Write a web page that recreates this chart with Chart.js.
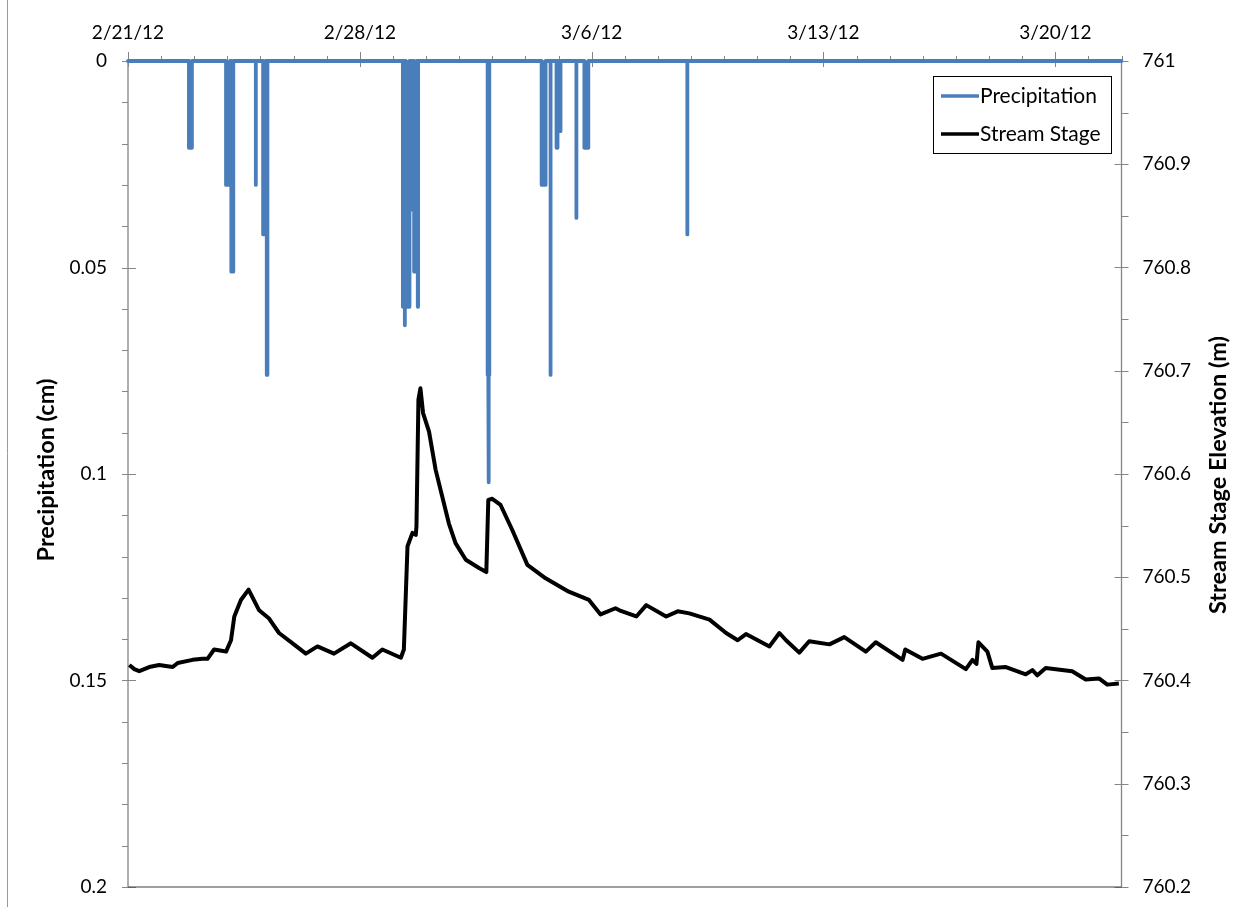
<!DOCTYPE html>
<html>
<head>
<meta charset="utf-8">
<title>Precipitation and Stream Stage</title>
<script src="https://cdn.jsdelivr.net/npm/chart.js@4.4.0/dist/chart.umd.min.js"></script>
<style>
  html, body { margin: 0; padding: 0; background: #ffffff; }
  #wrap { width: 1250px; height: 907px; }
</style>
</head>
<body>
<div id="wrap"><canvas id="chart" width="1250" height="907"></canvas></div>
<script>
// Time is measured in days since 2/21/12 00:00.
const dateLabels = ['2/21/12', '2/28/12', '3/6/12', '3/13/12', '3/20/12'];
const labelDays = [0, 7, 14, 21, 28];

// Rain events: start day, end day, depth per interval (cm)
const rainStart = [1.84, 2.96, 3.12, 3.86, 4.08, 4.19, 8.30, 8.36, 8.39, 8.55, 8.64, 8.75, 10.86, 10.89, 10.90, 12.49, 12.76, 12.94, 13.00, 13.54, 13.78, 16.89];
const rainEnd   = [1.93, 3.08, 3.18, 3.86, 4.15, 4.21, 8.33, 8.36, 8.50, 8.60, 8.72, 8.76, 10.88, 10.89, 10.91, 12.61, 12.76, 12.97, 13.06, 13.54, 13.90, 16.89];
const rainDepth = [0.021, 0.030, 0.051, 0.030, 0.042, 0.076, 0.0595, 0.064, 0.0595, 0.036, 0.051, 0.0595, 0.076, 0.102, 0.076, 0.030, 0.076, 0.021, 0.017, 0.038, 0.021, 0.042];

// Stream stage record
const stageDays = [0.04, 0.19, 0.34, 0.64, 0.94, 1.35, 1.50, 1.95, 2.25, 2.40, 2.60, 2.96, 3.11, 3.21, 3.41, 3.64, 3.96, 4.26, 4.56, 4.97, 5.37, 5.72, 6.22, 6.73, 7.38, 7.68, 8.24, 8.33, 8.44, 8.59, 8.69, 8.71, 8.77, 8.83, 8.91, 9.09, 9.29, 9.49, 9.69, 9.89, 10.20, 10.60, 10.82, 10.88, 11.00, 11.25, 11.60, 12.06, 12.61, 13.31, 13.92, 14.27, 14.72, 14.84, 15.35, 15.65, 16.25, 16.60, 16.95, 17.56, 18.06, 18.41, 18.66, 19.37, 19.67, 19.87, 20.27, 20.57, 21.18, 21.63, 22.28, 22.58, 23.39, 23.47, 23.99, 24.55, 25.30, 25.50, 25.62, 25.68, 25.95, 26.10, 26.51, 27.11, 27.31, 27.46, 27.71, 28.51, 28.92, 29.32, 29.57, 29.92];
const stageElev = [760.415, 760.411, 760.409, 760.413, 760.415, 760.413, 760.417, 760.420, 760.421, 760.421, 760.430, 760.428, 760.439, 760.462, 760.478, 760.488, 760.468, 760.460, 760.446, 760.436, 760.426, 760.433, 760.426, 760.436, 760.422, 760.430, 760.422, 760.430, 760.530, 760.543, 760.541, 760.549, 760.672, 760.683, 760.659, 760.641, 760.604, 760.578, 760.552, 760.533, 760.517, 760.509, 760.505, 760.575, 760.576, 760.570, 760.546, 760.512, 760.499, 760.486, 760.478, 760.464, 760.470, 760.468, 760.462, 760.473, 760.462, 760.467, 760.465, 760.459, 760.446, 760.439, 760.445, 760.433, 760.446, 760.439, 760.427, 760.438, 760.435, 760.442, 760.428, 760.437, 760.420, 760.430, 760.421, 760.426, 760.411, 760.420, 760.416, 760.437, 760.428, 760.412, 760.413, 760.406, 760.410, 760.405, 760.412, 760.409, 760.401, 760.402, 760.396, 760.397];

const DAY_MIN = 0, DAY_MAX = 30;
const BLUE = '#4a7ebb';
const AXIS_GREY = '#868686';
const FONT = 'Lato, "Open Sans", sans-serif';

// Stepped rain series: baseline at zero, each event drops to its depth and back.
const precipPoints = [{ x: DAY_MIN, y: 0 }];
rainStart.forEach((s, i) => {
  precipPoints.push({ x: s, y: 0 }, { x: s, y: rainDepth[i] }, { x: rainEnd[i], y: rainDepth[i] }, { x: rainEnd[i], y: 0 });
});
precipPoints.push({ x: DAY_MAX, y: 0 });

const stagePoints = stageDays.map((d, i) => ({ x: d, y: stageElev[i] }));

// Axis lines, tick marks, axis titles and the boxed legend.
const decorations = {
  id: 'decorations',
  beforeDatasetsDraw(chart) {
    const { ctx, chartArea: a, scales } = chart;
    const xs = scales.x, yl = scales.y, yr = scales.y2;
    ctx.save();
    // outer frame edge
    ctx.strokeStyle = '#9a9a9a';
    ctx.lineWidth = 1;
    ctx.beginPath(); ctx.moveTo(7.5, 0); ctx.lineTo(7.5, 907); ctx.stroke();

    ctx.strokeStyle = AXIS_GREY;
    ctx.lineWidth = 1.3;
    ctx.beginPath();
    ctx.moveTo(a.left, a.top); ctx.lineTo(a.left, a.bottom);
    ctx.moveTo(a.right, a.top); ctx.lineTo(a.right, a.bottom);
    ctx.moveTo(a.left, a.top); ctx.lineTo(a.right, a.top);
    ctx.stroke();

    ctx.lineWidth = 1;
    ctx.beginPath();
    // left axis: minor every 0.01, major every 0.05
    for (let k = 0; k <= 20; k++) {
      const y = Math.round(yl.getPixelForValue(k / 100)) + 0.5;
      if (k % 5 === 0) { ctx.moveTo(a.left - 6, y); ctx.lineTo(a.left + 8, y); }
      else { ctx.moveTo(a.left - 6, y); ctx.lineTo(a.left, y); }
    }
    // right axis: minor every 0.05, major every 0.1
    for (let k = 0; k <= 16; k++) {
      const y = Math.round(yr.getPixelForValue(760.2 + k * 0.05)) + 0.5;
      if (k % 2 === 0) { ctx.moveTo(a.right - 7, y); ctx.lineTo(a.right + 7, y); }
      else { ctx.moveTo(a.right, y); ctx.lineTo(a.right + 7, y); }
    }
    // top axis: daily minor ticks, weekly major ticks
    for (let d = DAY_MIN; d <= DAY_MAX; d++) {
      const x = Math.round(xs.getPixelForValue(d)) + 0.5;
      if (labelDays.includes(d)) { ctx.moveTo(x, a.top - 9); ctx.lineTo(x, a.top + 6); }
      else { ctx.moveTo(x, a.top - 5); ctx.lineTo(x, a.top); }
    }
    ctx.stroke();

    // bottom edge
    ctx.strokeStyle = '#404040';
    ctx.lineWidth = 1.2;
    ctx.beginPath(); ctx.moveTo(a.left, a.bottom); ctx.lineTo(a.right, a.bottom); ctx.stroke();

    // axis titles, both reading bottom to top
    ctx.fillStyle = '#000';
    ctx.font = 'bold 23.5px ' + FONT;
    ctx.textAlign = 'center';
    ctx.textBaseline = 'middle';
    const midY = (a.top + a.bottom) / 2;
    ctx.save(); ctx.translate(46, midY - 4); ctx.rotate(-Math.PI / 2);
    ctx.fillText('Precipitation (cm)', 0, 0); ctx.restore();
    ctx.save(); ctx.translate(1218, midY + 1); ctx.rotate(-Math.PI / 2);
    ctx.fillText('Stream Stage Elevation (m)', 0, 0); ctx.restore();
    ctx.restore();
  },
  afterDatasetsDraw(chart) {
    const { ctx } = chart;
    const box = { x: 933.5, y: 76.5, w: 178, h: 77 };
    ctx.save();
    ctx.fillStyle = '#fff';
    ctx.fillRect(box.x, box.y, box.w, box.h);
    ctx.strokeStyle = '#000';
    ctx.lineWidth = 1;
    ctx.strokeRect(box.x, box.y, box.w, box.h);
    ctx.font = '21px ' + FONT;
    ctx.textBaseline = 'middle';
    ctx.textAlign = 'left';
    chart.data.datasets.forEach((ds, i) => {
      const cy = 96 + i * 38;
      ctx.strokeStyle = ds.borderColor;
      ctx.lineWidth = 3.5;
      ctx.beginPath(); ctx.moveTo(941, cy); ctx.lineTo(979, cy); ctx.stroke();
      ctx.fillStyle = '#000';
      ctx.fillText(ds.label, 980, cy);
    });
    ctx.restore();
  }
};

const tickFont = { family: FONT, size: 19 };
// fixed side widths so the plot area spans x 128..1121.5
const fitLeft = s => { s.width = 128; s.paddingTop = 0; s.paddingBottom = 0; };
const fitRight = s => { s.width = 128.5; s.paddingTop = 0; s.paddingBottom = 0; };

new Chart(document.getElementById('chart'), {
  type: 'line',
  data: {
    datasets: [
      {
        label: 'Precipitation',
        data: precipPoints,
        yAxisID: 'y',
        borderColor: BLUE,
        backgroundColor: BLUE,
        borderWidth: 3.8,
        fill: 'origin',
        pointRadius: 0,
        tension: 0,
        borderJoinStyle: 'round',
        borderCapStyle: 'round',
        clip: false,
        order: 2
      },
      {
        label: 'Stream Stage',
        data: stagePoints,
        yAxisID: 'y2',
        borderColor: '#000000',
        borderWidth: 4,
        fill: false,
        pointRadius: 0,
        tension: 0,
        borderJoinStyle: 'round',
        clip: false,
        order: 1
      }
    ]
  },
  options: {
    responsive: false,
    devicePixelRatio: 1,
    animation: false,
    layout: { padding: { top: 0, left: 0, right: 0, bottom: 20 } },
    plugins: { legend: { display: false }, tooltip: { enabled: false } },
    scales: {
      x: {
        type: 'linear',
        position: 'top',
        min: DAY_MIN,
        max: DAY_MAX,
        afterBuildTicks: s => { s.ticks = labelDays.map(v => ({ value: v })); },
        afterFit: s => { s.height = 61; s.paddingLeft = 0; s.paddingRight = 0; },
        ticks: {
          autoSkip: false,
          maxRotation: 0,
          padding: 17,
          color: '#000',
          font: tickFont,
          callback: v => dateLabels[labelDays.indexOf(v)]
        },
        grid: { display: false, drawTicks: false },
        border: { display: false }
      },
      y: {
        position: 'left',
        reverse: true,
        min: 0,
        max: 0.2,
        afterFit: fitLeft,
        ticks: { stepSize: 0.05, padding: 21, color: '#000', font: tickFont, callback: v => String(+v.toFixed(2)) },
        grid: { display: false, drawTicks: false },
        border: { display: false }
      },
      y2: {
        position: 'right',
        min: 760.2,
        max: 761,
        afterFit: fitRight,
        ticks: { stepSize: 0.1, padding: 21, color: '#000', font: tickFont, callback: v => String(+v.toFixed(1)) },
        grid: { display: false, drawTicks: false },
        border: { display: false }
      }
    }
  },
  plugins: [decorations]
});
</script>
</body>
</html>
